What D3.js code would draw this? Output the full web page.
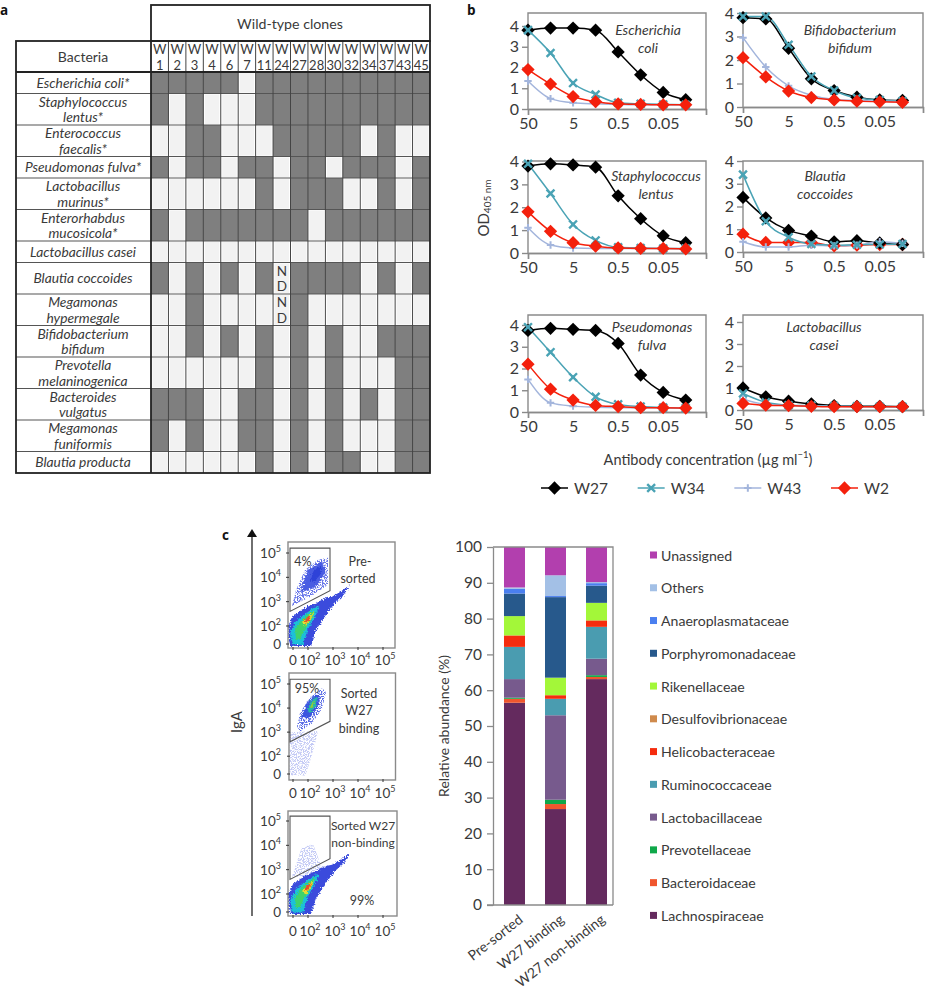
<!DOCTYPE html>
<html><head><meta charset="utf-8">
<script src="https://cdnjs.cloudflare.com/ajax/libs/d3/7.8.5/d3.min.js"></script>
<style>
html,body{margin:0;padding:0;background:#fff}
svg{display:block}
text{font-family:Lato,"Open Sans",sans-serif;fill:#3a3a3a}
.it{font-style:italic}
.pl{font-family:"Open Sans",sans-serif;font-weight:700;fill:#111;font-size:13.5px}
</style></head><body><svg id="c" width="926" height="992"></svg>
<script>
// ---------- panel a data
const clones=["1","2","3","4","6","7","11","24","27","28","30","32","34","37","43","45"];
const bacteria=[["Escherichia coli*"],["Staphylococcus","lentus*"],["Enterococcus","faecalis*"],["Pseudomonas fulva*"],["Lactobacillus","murinus*"],["Enterorhabdus","mucosicola*"],["Lactobacillus casei"],["Blautia coccoides"],["Megamonas","hypermegale"],["Bifidobacterium","bifidum"],["Prevotella","melaninogenica"],["Bacteroides","vulgatus"],["Megamonas","funiformis"],["Blautia producta"]];
const rowUnits=[1,2,2,1,2,2,1,2,2,2,2,2,2,1];
const binding=[
"1111101111111111",
"1010001111111111",
"0011000111110100",
"1011011011011101",
"0000001011100101",
"1011111110111111",
"0000000000000000",
"1010101011110101",
"0010000010000000",
"0010101010100111",
"0000001010100011",
"1110011010101011",
"1010011010100011",
"0000001010110011"];
const ndCells=[[7,7],[8,7]];
// ---------- panel b data
const concLabels=["50","5","0.5","0.05"];
const seriesNames=["W27","W34","W43","W2"];
const ecoli={W27:[3.8,3.9,3.9,3.8,2.75,1.65,0.8,0.45],W34:[3.8,2.7,1.25,0.7,0.3,0.25,0.22,0.2],W43:[1.35,0.5,0.3,0.25,0.22,0.2,0.2,0.2],W2:[1.9,1.2,0.6,0.35,0.25,0.22,0.2,0.2]};
const bifido={W27:[3.8,3.75,2.5,1.2,0.7,0.42,0.3,0.28],W34:[3.85,3.85,2.65,1.3,0.7,0.38,0.3,0.25],W43:[2.95,1.7,0.9,0.5,0.32,0.28,0.25,0.22],W2:[2.1,1.28,0.68,0.4,0.3,0.25,0.22,0.2]};
const staph={W27:[3.8,3.9,3.85,3.75,2.5,1.5,0.75,0.45],W34:[3.9,2.6,1.25,0.55,0.25,0.22,0.2,0.2],W43:[1.1,0.35,0.22,0.2,0.2,0.2,0.2,0.18],W2:[1.8,0.95,0.45,0.3,0.22,0.2,0.2,0.18]};
const blautia={W27:[2.4,1.5,0.95,0.7,0.45,0.5,0.4,0.33],W34:[3.4,1.35,0.65,0.35,0.3,0.32,0.33,0.35],W43:[0.45,0.22,0.22,0.3,0.27,0.3,0.45,0.38],W2:[0.78,0.42,0.42,0.42,0.27,0.3,0.33,0.33]};
const pseudo={W27:[3.75,3.85,3.8,3.75,3.15,1.7,0.9,0.55],W34:[3.9,2.75,1.6,0.7,0.35,0.25,0.2,0.18],W43:[1.5,0.42,0.27,0.22,0.2,0.2,0.18,0.18],W2:[2.2,1.05,0.55,0.3,0.25,0.2,0.2,0.18]};
const casei={W27:[1.0,0.6,0.4,0.28,0.2,0.17,0.17,0.15],W34:[0.75,0.35,0.22,0.2,0.18,0.17,0.15,0.15],W43:[0.5,0.25,0.2,0.18,0.17,0.15,0.15,0.15],W2:[0.3,0.22,0.2,0.17,0.15,0.15,0.15,0.15]};
// ---------- panel c data: stacked bars
const samples=["Pre-sorted","W27 binding","W27 non-binding"];
const families=["Lachnospiraceae","Bacteroidaceae","Prevotellaceae","Lactobacillaceae","Ruminococcaceae","Helicobacteraceae","Desulfovibrionaceae","Rikenellaceae","Porphyromonadaceae","Anaeroplasmataceae","Others","Unassigned"];
const preSorted=[56.5,1.1,0.3,5.2,9,3.2,0,5.4,6.3,1.3,0.4,11.3];
const w27Binding=[26.8,1.4,1.2,23.6,4.6,1,0,4.9,22.5,0.3,5.8,7.9];
const w27NonBinding=[63.1,0.6,0.5,4.6,8.9,1.8,0,4.9,4.8,0.7,0.3,9.8];
const familyColors=["#642a5e","#f0562e","#0fa84a","#775a8d","#4a9cb0","#f52c0e","#cf8a4c","#a3f739","#27598c","#4a7ff0","#a3c0e6","#b23fae"];
// ---------- panel c data: flow density outlines, in log10 decades
const mainOuter=[[1.22,2.04],[1.4,2.4],[1.8,2.7],[2.4,3.0],[2.72,3.15],[2.96,3.2],[3.28,3.4],[3.68,3.68],[3.4,3.23],[3.08,2.95],[2.68,2.4],[2.32,1.84],[2.12,1.18],[1.28,1.18],[1.22,1.63]];
const mainCyan=[[1.28,1.7],[1.48,2.15],[1.88,2.5],[2.3,2.8],[2.45,2.8],[2.25,2.35],[1.98,1.84],[1.8,1.23],[1.4,1.23]];
const mainGreen=[[1.48,1.9],[1.76,2.28],[2.16,2.6],[2.3,2.7],[2.15,2.3],[1.86,1.84],[1.66,1.43],[1.52,1.43]];
const mainYellow=[[1.76,2.12],[2.04,2.42],[2.24,2.58],[2.12,2.28],[1.9,1.98]];
const mainRed=[[1.86,2.25],[2.02,2.4],[2.12,2.42],[2.02,2.22],[1.9,2.12]];
const upperLight=[[1.36,2.82],[1.52,3.48],[1.88,4.3],[2.4,4.72],[2.8,4.8],[2.8,3.69],[2.08,3.19]];
const upperMid=[[1.7,3.4],[2.0,4.3],[2.56,4.68],[2.7,4.22],[2.3,3.6]];
const upperDark=[[2.08,3.86],[2.24,4.3],[2.56,4.5],[2.48,4.1],[2.24,3.8]];
const sortLight=[[1.56,3.24],[1.68,3.8],[2.08,4.45],[2.56,4.83],[2.72,4.66],[2.56,3.97],[2.16,3.37],[1.68,3.03]];
const sortMid=[[1.76,3.63],[1.92,4.15],[2.24,4.49],[2.48,4.58],[2.4,4.06],[2.08,3.63]];
const sortGreen=[[1.96,3.89],[2.12,4.32],[2.36,4.45],[2.32,4.1],[2.08,3.8]];
const sortCore=[[2.08,4.02],[2.2,4.28],[2.28,4.24],[2.16,3.97]];
const sortTail=[[1.26,3.0],[2.4,3.05],[2.2,2.2],[1.9,1.2],[1.26,1.2]];
const gatedTail=[[1.35,2.7],[1.75,3.9],[2.2,4.05],[2.55,3.1],[2.1,2.7]];
const gateUpper=[[1.28,5.2],[2.88,5.2],[2.88,3.45],[1.28,2.6]];
const flowTicksY=[1.26,2,3,4,5];
const flowTicksX=[1.4,2,3,4,5];
const flowLevels=[{s:mainOuter,c:"#3a4cdc"},{s:mainCyan,c:"#1cc0d8"},{s:mainGreen,c:"#3fd26a"},{s:mainYellow,c:"#e6dc30"},{s:mainRed,c:"#e8502a"}];

const svg=d3.select("#c");
const txt=(g,x,y,s,o={})=>g.append("text").attr("x",x).attr("y",y).attr("text-anchor",o.a||"middle").attr("dominant-baseline","central").attr("font-size",o.f||14).attr("class",o.c||null).text(s);
svg.append("text").attr("class","pl").attr("x",0).attr("y",15).text("a");
svg.append("text").attr("class","pl").attr("x",467).attr("y",15).text("b");
svg.append("text").attr("class","pl").attr("x",222).attr("y",540).text("c");

// ---------- PANEL A
(function(){
  const g=svg.append("g");
  const x=d3.scaleBand().domain(clones).range([151,430]);
  const cum=d3.cumsum(rowUnits.map(u=>u===1?21.5:31.5));
  const tops=[0,...cum];
  const y=d3.scaleLinear().domain([0,401]).range([72,473]);
  bacteria.forEach((b,i)=>{
    const t=y(tops[i]),h=y(tops[i+1])-t;
    clones.forEach((c,j)=>{
      const on=binding[i][j]==="1";
      g.append("rect").attr("x",x(c)+(on?0:1.5)).attr("y",t+(on?0:1)).attr("width",x.bandwidth()-(on?0:3)).attr("height",h-(on?0:2)).attr("fill",on?"#7f7f7f":"#f2f2f2");
    });
    g.append("line").attr("x1",16).attr("x2",430).attr("y1",t).attr("y2",t).attr("stroke","#555").attr("stroke-width",1.2);
    const cy=t+h/2;
    if(b.length===1) txt(g,83,cy-0.5,b[0],{c:"it",f:13.8});
    else{txt(g,83,cy-8,b[0],{c:"it",f:13.8});txt(g,83,cy+7.5,b[1],{c:"it",f:13.8});}
  });
  clones.forEach((c,j)=>{
    const xx=x(c);
    if(j>0) g.append("line").attr("x1",xx).attr("x2",xx).attr("y1",41).attr("y2",473).attr("stroke","#444").attr("stroke-width",1);
    txt(g,xx+x.bandwidth()/2,49,"W",{f:13});
    txt(g,xx+x.bandwidth()/2,65,c,{f:13});
  });
  ndCells.forEach(([r,c])=>{
    const t=y(tops[r]),h=y(tops[r+1])-t,cx=x(clones[c])+x.bandwidth()/2;
    txt(g,cx,t+h/2-7.5,"N",{f:13.5});txt(g,cx,t+h/2+8,"D",{f:13.5});
  });
  const box=(a,b,w,h)=>g.append("rect").attr("x",a).attr("y",b).attr("width",w).attr("height",h).attr("fill","none").attr("stroke","#222").attr("stroke-width",1.8);
  box(151,5,279,36);box(16,41,414,432);
  g.append("line").attr("x1",151).attr("x2",151).attr("y1",41).attr("y2",473).attr("stroke","#222").attr("stroke-width",1.8);
  g.append("line").attr("x1",16).attr("x2",430).attr("y1",72).attr("y2",72).attr("stroke","#222").attr("stroke-width",1.8);
  txt(g,290,23,"Wild-type clones",{f:14.2});
  txt(g,83,56,"Bacteria",{f:14});
})();

// ---------- PANEL B
const sColor={W27:"#000",W34:"#4aa3b5",W43:"#a3b5dc",W2:"#f4200c"};
function marker(g,name,px,py){
  const t=`translate(${px},${py})`;
  if(name==="W27"||name==="W2"){
    g.append("path").attr("d",d3.symbol(d3.symbolSquare,88)()).attr("transform",t+" rotate(45)").attr("fill",sColor[name]);
  }else if(name==="W34"){
    g.append("path").attr("d",d3.symbol(d3.symbolTimes,42)()).attr("transform",t).attr("fill","none").attr("stroke",sColor.W34).attr("stroke-width",2.4);
    g.append("path").attr("d",d3.symbol(d3.symbolSquare,12)()).attr("transform",t).attr("fill",sColor.W34);
  }else{
    g.append("path").attr("d",d3.symbol(d3.symbolPlus,20)()).attr("transform",t).attr("fill","none").attr("stroke",sColor.W43).attr("stroke-width",2);
  }
}
const bPanels=[
 {d:ecoli,n:["Escherichia","coli"],l:528,r:706,t:13,y4:26,y0:109,tx:648,ty:29},
 {d:bifido,n:["Bifidobacterium","bifidum"],l:743,r:923,t:13,y4:13,y0:107,tx:850,ty:29},
 {d:staph,n:["Staphylococcus","lentus"],l:528,r:706,t:161,y4:161.5,y0:253,tx:656,ty:175},
 {d:blautia,n:["Blautia","coccoides"],l:743,r:923,t:161,y4:161,y0:252,tx:825,ty:175,order:["W2","W27","W43","W34"]},
 {d:pseudo,n:["Pseudomonas","fulva"],l:528,r:706,t:315,y4:325,y0:412,tx:652,ty:326},
 {d:casei,n:["Lactobacillus","casei"],l:743,r:923,t:315,y4:322,y0:410,tx:824,ty:326}];
bPanels.forEach(p=>{
  const g=svg.append("g");
  const x=d3.scaleLinear().domain([0,7.9]).range([p.l,p.r]);
  const y=d3.scaleLinear().domain([0,4]).range([p.y0,p.y4]);
  g.append("path").attr("d",`M${p.l},${p.y0}V${p.t}H${p.r}V${p.y0}`).attr("fill","none").attr("stroke","#8a8a8a").attr("stroke-width",1.4);
  const ay=g.append("g").attr("transform",`translate(${p.l},0)`).call(d3.axisLeft(y).tickValues([0,1,2,3,4]).tickSize(6).tickSizeOuter(0).tickFormat(d3.format("d")));
  const ax=g.append("g").attr("transform",`translate(0,${p.y0})`).call(d3.axisBottom(x).tickValues([0,2,4,6]).tickSize(0).tickPadding(9).tickFormat((d,i)=>concLabels[i]));
  const ax2=g.append("g").attr("transform",`translate(0,${p.y0})`).call(d3.axisBottom(x).tickValues([0,7.9]).tickSize(6).tickFormat(""));
  [ay,ax,ax2].forEach(a=>{a.selectAll("path").attr("stroke","#8a8a8a").attr("stroke-width",1.4);a.selectAll("line").attr("stroke","#8a8a8a").attr("stroke-width",1.4);a.selectAll("text").attr("font-size",16).attr("font-family","Lato").attr("fill","#333");});
  ay.select(".domain").remove();
  const line=d3.line().x((d,i)=>x(i)).y(d=>y(d)).curve(d3.curveMonotoneX);
  (p.order||seriesNames).forEach(s=>{
    g.append("path").attr("d",line(p.d[s])).attr("fill","none").attr("stroke",sColor[s]).attr("stroke-width",1.5);
  });
  (p.order||seriesNames).forEach(s=>p.d[s].forEach((v,i)=>marker(g,s,x(i),y(v))));
  txt(g,p.tx,p.ty,p.n[0],{c:"it",f:14});
  txt(g,p.tx,p.ty+18,p.n[1],{c:"it",f:14});
});
const od=svg.append("text").attr("transform","translate(483,208) rotate(-90)").attr("text-anchor","middle").attr("dominant-baseline","central").attr("font-size",15);
od.append("tspan").text("OD");
od.append("tspan").attr("font-size",10).attr("dy",4).text("405 nm");
const abx=svg.append("text").attr("x",708).attr("y",459).attr("text-anchor","middle").attr("dominant-baseline","central").attr("font-size",14.5);
abx.append("tspan").text("Antibody concentration (µg ml");
abx.append("tspan").attr("font-size",9.5).attr("dy",-5).text("−1");
abx.append("tspan").attr("dy",5).text(")");
const bLeg=d3.scalePoint().domain(seriesNames).range([541,831]);
const legLine=d3.scaleLinear().domain([0,1]).range([0,27]);
seriesNames.forEach(s=>{
  const g=svg.append("g");const a=bLeg(s);
  g.append("line").attr("x1",a+legLine(0)).attr("x2",a+legLine(1)).attr("y1",488).attr("y2",488).attr("stroke",sColor[s]).attr("stroke-width",1.5);
  marker(g,s,a+legLine(.5),488);
  txt(g,a+33,488,s,{a:"start",f:15.5});
});

// ---------- PANEL C: flow plots
const defs=svg.append("defs");
const soft=defs.append("filter").attr("id","soft").attr("x","-10%").attr("y","-10%").attr("width","120%").attr("height","120%");
soft.append("feTurbulence").attr("type","fractalNoise").attr("baseFrequency",.7).attr("numOctaves",2).attr("seed",3).attr("result","n");
soft.append("feDisplacementMap").attr("in","SourceGraphic").attr("in2","n").attr("scale",5).attr("xChannelSelector","R").attr("yChannelSelector","G");
soft.append("feGaussianBlur").attr("stdDeviation",.5);
const speck=defs.append("filter").attr("id","speck").attr("x","-10%").attr("y","-10%").attr("width","120%").attr("height","120%");
speck.append("feTurbulence").attr("type","fractalNoise").attr("baseFrequency",.85).attr("numOctaves",1).attr("seed",8).attr("result","n");
speck.append("feColorMatrix").attr("in","n").attr("type","matrix").attr("values","0 0 0 0 0 0 0 0 0 0 0 0 0 0 0 9 0 0 0 -4.1").attr("result","m");
speck.append("feComposite").attr("in","SourceGraphic").attr("in2","m").attr("operator","in");
svg.append("line").attr("x1",252).attr("x2",252).attr("y1",536).attr("y2",916).attr("stroke","#222").attr("stroke-width",1.3);
svg.append("path").attr("d",d3.line()([[247,537],[252,529],[257,537]])+"Z").attr("fill","#111");
svg.append("text").attr("transform","translate(236,722) rotate(-90)").attr("text-anchor","middle").attr("dominant-baseline","central").attr("font-size",15).text("IgA");
const flowPlots=[
 {l:288,r:395,t:542,b:648,y0:644,y5:553,xl:660,levels:flowLevels,tail:[[upperLight,"#6a78ea"]],upper:[[upperMid,"#4a5ce2"],[upperDark,"#2e42d8"]],notes:[["4%",303,561,12.5],["Pre-",360,561,12.5],["sorted",358,578,12.5]]},
 {l:289,r:395.5,t:673,b:780,y0:774,y5:684,xl:793,levels:[],tail:[[sortTail,"#c4caf5"],[sortLight,"#5a6ce6"]],upper:[[sortMid,"#3a55e0"],[sortGreen,"#28b8a8"],[sortCore,"#8ccc3c"]],notes:[["95%",307,688,12.5],["Sorted",359,693,12.5],["W27",359,710,12.5],["binding",359,728,12.5]]},
 {l:288,r:397,t:811,b:916,y0:912,y5:821,xl:931,levels:flowLevels,tail:[[gatedTail,"#c4caf5"]],upper:[],notes:[["Sorted W27",363,825,12],["non-binding",363,842,12],["99%",362,900,12.5]]}];
flowPlots.forEach(p=>{
  const g=svg.append("g");
  const x=d3.scaleLinear().domain([2,5]).range([308,383]);
  const y=d3.scaleLinear().domain([1.26,5]).range([p.y0,p.y5]);
  const clip="clip"+p.t;
  defs.append("clipPath").attr("id",clip).append("rect").attr("x",p.l).attr("y",p.t).attr("width",p.r-p.l).attr("height",p.b-p.t);
  const shape=d3.line().x(d=>x(d[0])).y(d=>y(d[1])).curve(d3.curveLinearClosed);
  const area=g.append("g").attr("clip-path",`url(#${clip})`);
  const tail=area.append("g").attr("filter","url(#speck)");
  p.tail.forEach(([s,c])=>tail.append("path").attr("d",shape(s)).attr("fill",c));
  const blobs=area.append("g").attr("filter","url(#soft)");
  p.upper.forEach(([s,c])=>blobs.append("path").attr("d",shape(s)).attr("fill",c));
  p.levels.forEach(l=>blobs.append("path").attr("d",shape(l.s)).attr("fill",l.c));
  g.append("rect").attr("x",p.l).attr("y",p.t).attr("width",p.r-p.l).attr("height",p.b-p.t).attr("fill","none").attr("stroke","#8a8a8a").attr("stroke-width",1.4);
  g.append("path").attr("d",d3.line().x(d=>x(d[0])).y(d=>y(d[1]))(gateUpper)+"Z").attr("fill","none").attr("stroke","#555").attr("stroke-width",1.1);
  const lab=(a,b,v,anchor)=>{
    const t=g.append("text").attr("x",a).attr("y",b).attr("text-anchor",anchor).attr("dominant-baseline","central").attr("font-size",13.5);
    if(v<2){t.text("0");return;}
    t.append("tspan").text("10");
    t.append("tspan").attr("font-size",9).attr("dy",-5).text(v);
  };
  flowTicksY.forEach(v=>{
    lab(281,y(v),v,"end");
    g.append("line").attr("x1",p.l-2).attr("x2",p.l+1).attr("y1",y(v)).attr("y2",y(v)).attr("stroke","#333");
  });
  flowTicksX.forEach(v=>{
    lab(x(v)+(v<2?0:2),p.xl,v,"middle");
    g.append("line").attr("x1",x(v)).attr("x2",x(v)).attr("y1",p.b-1).attr("y2",p.b+2).attr("stroke","#333");
  });
  p.notes.forEach(([s,a,b,f])=>txt(g,a,b,s,{f}));
});

// ---------- PANEL C: stacked bars
(function(){
  const g=svg.append("g");
  const x=d3.scaleBand().domain(samples).range([493,618]).paddingInner(.488).paddingOuter(.268);
  const y=d3.scaleLinear().domain([0,100]).range([905,547]);
  const rows=[preSorted,w27Binding,w27NonBinding];
  const table=samples.map((s,i)=>{const o={sample:s};families.forEach((f,j)=>o[f]=rows[i][j]);return o;});
  const stack=d3.stack().keys(families)(table);
  stack.forEach((layer,k)=>layer.forEach(d=>{
    g.append("rect").attr("x",x(d.data.sample)).attr("width",x.bandwidth()).attr("y",y(d[1])).attr("height",y(d[0])-y(d[1])).attr("fill",familyColors[k]);
  }));
  g.append("path").attr("d","M613,905V547H493").attr("fill","none").attr("stroke","#8a8a8a").attr("stroke-width",1.3);
  const ay=g.append("g").attr("transform","translate(493,0)").call(d3.axisLeft(y).tickValues(d3.range(0,101,10)).tickSize(6).tickPadding(5).tickSizeOuter(0));
  ay.selectAll("line,path").attr("stroke","#8a8a8a").attr("stroke-width",1.3);
  ay.selectAll("text").attr("font-size",15.5).attr("font-family","Lato").attr("fill","#333");
  g.append("line").attr("x1",487).attr("x2",613).attr("y1",905).attr("y2",905).attr("stroke","#8a8a8a").attr("stroke-width",1.3);
  samples.forEach(s=>{
    g.append("text").attr("transform",`translate(${x(s)+x.bandwidth()/2+6},917) rotate(-38)`).attr("text-anchor","end").attr("dominant-baseline","central").attr("font-size",14).text(s);
  });
  g.append("text").attr("transform","translate(443,726) rotate(-90)").attr("text-anchor","middle").attr("dominant-baseline","central").attr("font-size",14).text("Relative abundance (%)");
  const leg=d3.scalePoint().domain(families.slice().reverse()).range([555,915.4]);
  families.forEach((f,k)=>{
    g.append("rect").attr("x",650).attr("y",leg(f)-3.5).attr("width",7).attr("height",7).attr("fill",familyColors[k]);
    txt(g,661,leg(f),f,{a:"start",f:14.1});
  });
})();
</script></body></html>
